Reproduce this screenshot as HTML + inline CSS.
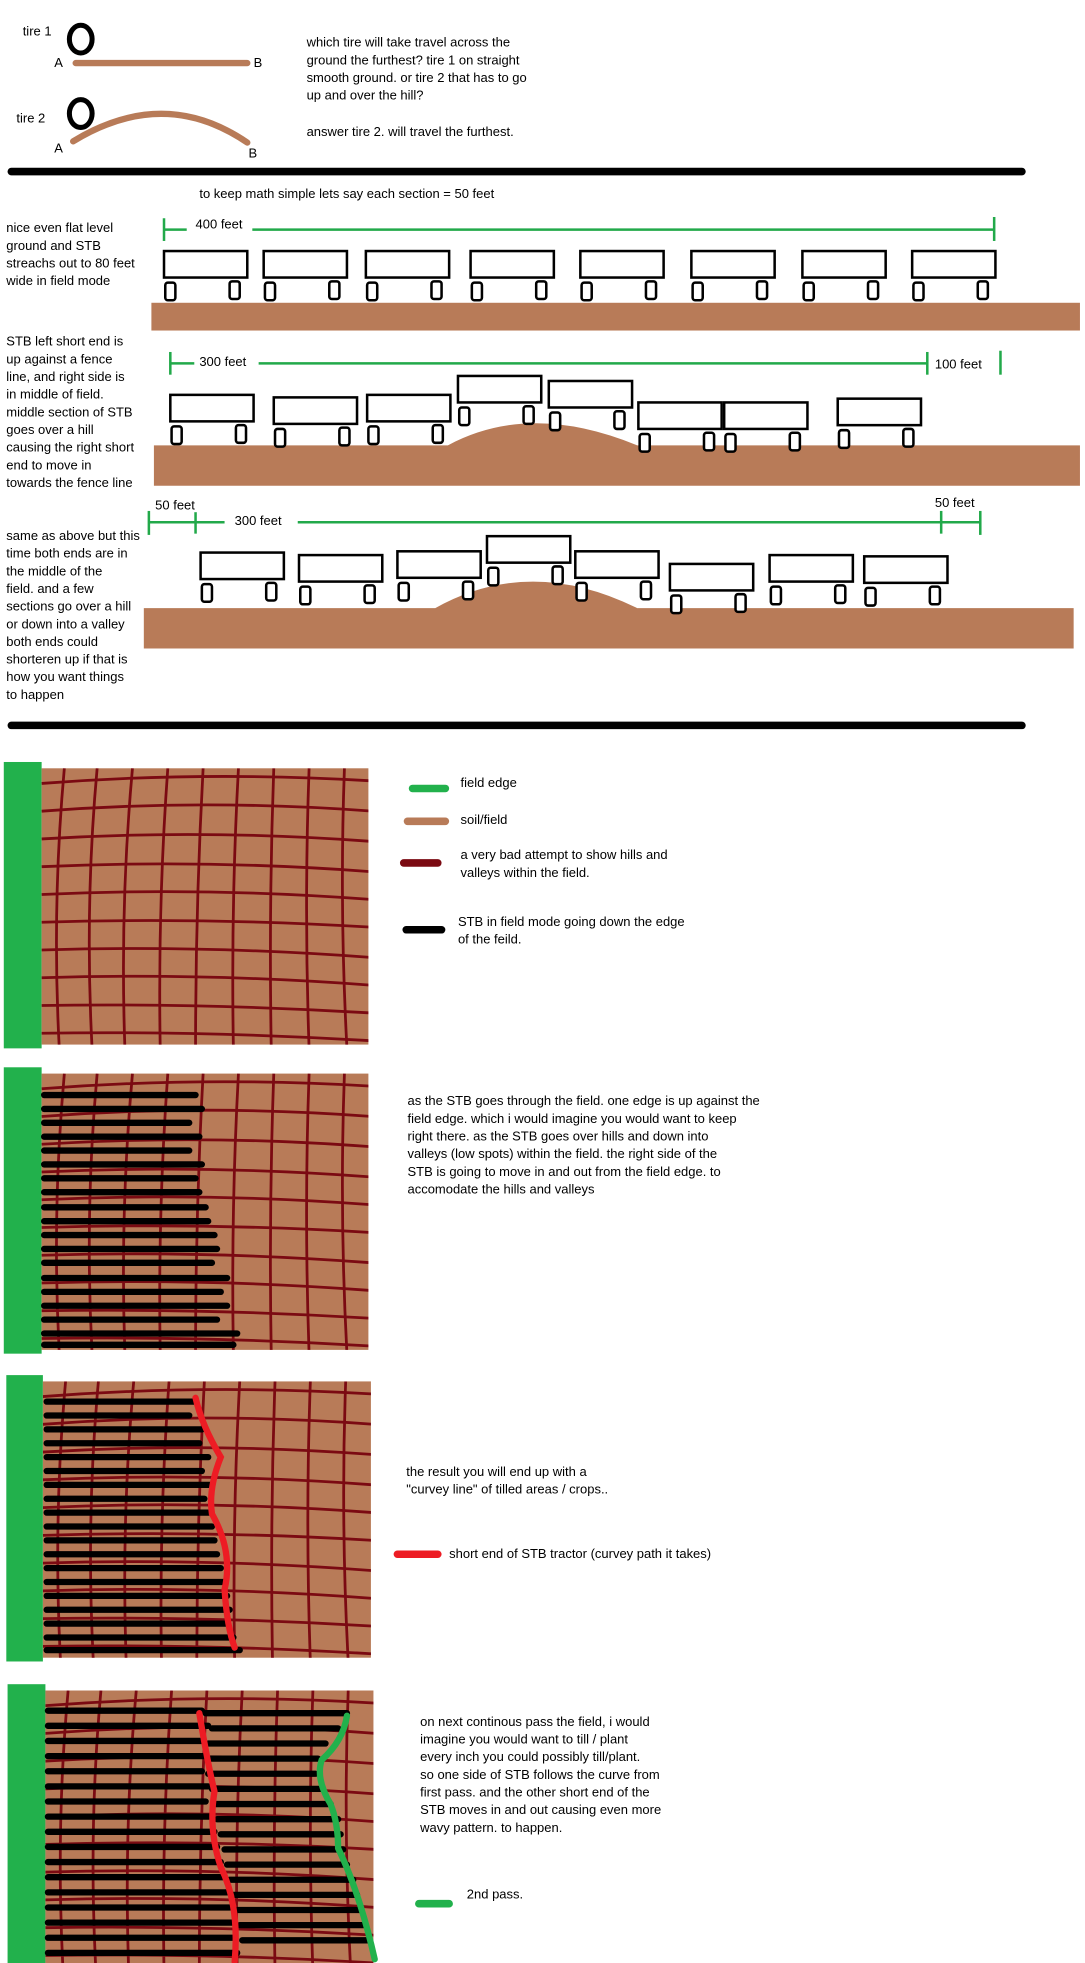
<!DOCTYPE html>
<html><head><meta charset="utf-8"><style>
html,body{margin:0;padding:0;background:#fff;}
svg{display:block;}
text{font-family:"Liberation Sans",sans-serif;font-size:10.3px;fill:#000;}
</style></head><body>
<svg width="1085" height="1963" viewBox="0 0 860 1556" preserveAspectRatio="none" xmlns="http://www.w3.org/2000/svg">
<defs>
<g id="grid" fill="none" stroke="#7b0a12" stroke-width="2.2">
<path d="M0 12 Q130 2 262 10"/><path d="M0 34 Q130 24 262 34"/><path d="M0 56 Q130 48 262 58"/><path d="M0 78 Q130 72 262 82"/><path d="M0 100 Q130 94 262 104"/><path d="M0 122 Q130 118 262 126"/><path d="M0 144 Q130 140 262 150"/><path d="M0 166 Q130 162 262 172"/><path d="M0 188 Q130 186 262 194"/><path d="M0 210 Q130 208 262 216"/>
<path d="M18 0 Q8 110 14 222"/><path d="M44 0 Q34 110 40 222"/><path d="M72 0 Q62 110 66 222"/><path d="M100 0 Q92 110 94 222"/><path d="M128 0 Q122 110 122 222"/><path d="M156 0 Q150 110 152 222"/><path d="M184 0 Q180 110 182 222"/><path d="M212 0 Q208 110 212 222"/><path d="M240 0 Q236 110 242 222"/>
</g>
<g id="bx" fill="#fff" stroke="#000" stroke-width="2">
<rect x="0" y="0" width="66" height="21"/><rect x="1" y="25" width="8" height="14" rx="2"/><rect x="52" y="24" width="8" height="14" rx="2"/>
</g>
</defs>
<text x="18" y="28">tire 1</text>
<ellipse cx="64" cy="31" rx="9" ry="11" fill="none" stroke="#000" stroke-width="4"/>
<line x1="60" y1="50" x2="196" y2="50" stroke="#b87b58" stroke-width="5" stroke-linecap="round"/>
<text x="43" y="53">A</text><text x="201" y="53">B</text>
<text x="13" y="97">tire 2</text>
<ellipse cx="64" cy="90" rx="9" ry="11" fill="none" stroke="#000" stroke-width="4"/>
<path d="M58 112 Q130 68 196 113" fill="none" stroke="#b87b58" stroke-width="5" stroke-linecap="round"/>
<text x="43" y="121">A</text><text x="197" y="125">B</text>
<text x="243" y="37">which tire will take travel across the</text>
<text x="243" y="51">ground the furthest?  tire 1 on straight</text>
<text x="243" y="65">smooth ground.  or tire 2  that has to go</text>
<text x="243" y="79">up and over the hill?</text>
<text x="243" y="108">answer tire 2. will travel the furthest.</text>
<line x1="9" y1="136" x2="810" y2="136" stroke="#000" stroke-width="6" stroke-linecap="round"/>
<text x="158" y="157">to keep math simple lets say each section = 50 feet</text>
<text x="5" y="184">nice even flat level</text><text x="5" y="198">ground and STB</text><text x="5" y="212">streachs out to 80 feet</text><text x="5" y="226">wide in field mode</text>
<g stroke="#22a94a" stroke-width="2"><line x1="130" y1="173" x2="130" y2="191"/><line x1="130" y1="182" x2="148" y2="182"/><line x1="200" y1="182" x2="788" y2="182"/><line x1="788" y1="172" x2="788" y2="191"/></g>
<text x="155" y="181">400 feet</text>
<rect x="120" y="240" width="736" height="22" fill="#b87b58"/>
<use href="#bx" x="130" y="199"/><use href="#bx" x="209" y="199"/><use href="#bx" x="290" y="199"/><use href="#bx" x="373" y="199"/><use href="#bx" x="460" y="199"/><use href="#bx" x="548" y="199"/><use href="#bx" x="636" y="199"/><use href="#bx" x="723" y="199"/>
<text x="5" y="274">STB left short end is</text><text x="5" y="288">up against a fence</text><text x="5" y="302">line, and right side is</text><text x="5" y="316">in middle of field.</text><text x="5" y="330">middle section of STB</text><text x="5" y="344">goes over a hill</text><text x="5" y="358">causing the right short</text><text x="5" y="372">end to move in</text><text x="5" y="386">towards the fence line</text>
<g stroke="#22a94a" stroke-width="2"><line x1="135" y1="279" x2="135" y2="297"/><line x1="135" y1="288" x2="154" y2="288"/><line x1="205" y1="288" x2="735" y2="288"/><line x1="735" y1="279" x2="735" y2="297"/><line x1="793" y1="278" x2="793" y2="297"/></g>
<text x="158" y="290">300 feet</text><text x="741" y="292">100 feet</text>
<path d="M122 353 L355 353 Q420 318 505 353 L856 353 L856 385 L122 385 Z" fill="#b87b58"/>
<use href="#bx" x="135" y="313"/><use href="#bx" x="217" y="315"/><use href="#bx" x="291" y="313"/><use href="#bx" x="363" y="298"/><use href="#bx" x="435" y="302"/><use href="#bx" x="506" y="319"/><use href="#bx" x="574" y="319"/><use href="#bx" x="664" y="316"/>
<text x="123" y="404">50 feet</text><text x="741" y="402">50 feet</text><text x="186" y="416">300 feet</text>
<g stroke="#22a94a" stroke-width="2"><line x1="118" y1="405" x2="118" y2="424"/><line x1="118" y1="414" x2="178" y2="414"/><line x1="236" y1="414" x2="777" y2="414"/><line x1="155" y1="406" x2="155" y2="423"/><line x1="746" y1="405" x2="746" y2="423"/><line x1="777" y1="405" x2="777" y2="424"/></g>
<text x="5" y="428">same as above but this</text><text x="5" y="442">time both ends are in</text><text x="5" y="456">the middle of the</text><text x="5" y="470">field. and a few</text><text x="5" y="484">sections go over a hill</text><text x="5" y="498">or down into a valley</text><text x="5" y="512">both ends could</text><text x="5" y="526">shorteren up if that is</text><text x="5" y="540">how you want things</text><text x="5" y="554">to happen</text>
<path d="M114 482 L345 482 Q420 440 505 482 L851 482 L851 514 L114 514 Z" fill="#b87b58"/>
<use href="#bx" x="159" y="438"/><use href="#bx" x="237" y="440"/><use href="#bx" x="315" y="437"/><use href="#bx" x="386" y="425"/><use href="#bx" x="456" y="437"/><use href="#bx" x="531" y="447"/><use href="#bx" x="610" y="440"/><use href="#bx" x="685" y="441"/>
<line x1="9" y1="575" x2="810" y2="575" stroke="#000" stroke-width="6" stroke-linecap="round"/>
<rect x="3" y="604" width="30" height="227" fill="#22b14c"/>
<rect x="33" y="609" width="259" height="219" fill="#b87b58"/>
<svg x="33" y="609" width="259" height="219" overflow="hidden"><use href="#grid"/></svg>
<g stroke-width="6" stroke-linecap="round"><line x1="327" y1="625" x2="353" y2="625" stroke="#22b14c"/><line x1="323" y1="651" x2="353" y2="651" stroke="#b87b58"/><line x1="320" y1="684" x2="347" y2="684" stroke="#7b0a12"/><line x1="322" y1="737" x2="350" y2="737" stroke="#000"/></g>
<text x="365" y="624">field edge</text><text x="365" y="653">soil/field</text>
<text x="365" y="681">a very bad attempt to show hills and</text><text x="365" y="695">valleys within the field.</text>
<text x="363" y="734">STB in field mode going down the edge</text><text x="363" y="748">of the feild.</text>
<rect x="3" y="846" width="30" height="227" fill="#22b14c"/>
<rect x="33" y="851" width="259" height="219" fill="#b87b58"/>
<svg x="33" y="851" width="259" height="219" overflow="hidden"><use href="#grid"/></svg>
<g stroke="#000" stroke-width="5" stroke-linecap="round">
<line x1="35" y1="868" x2="155" y2="868"/><line x1="35" y1="879" x2="160" y2="879"/><line x1="35" y1="890" x2="150" y2="890"/><line x1="35" y1="901" x2="158" y2="901"/><line x1="35" y1="912" x2="150" y2="912"/><line x1="35" y1="923" x2="160" y2="923"/><line x1="35" y1="934" x2="155" y2="934"/><line x1="35" y1="945" x2="158" y2="945"/><line x1="35" y1="957" x2="163" y2="957"/><line x1="35" y1="968" x2="165" y2="968"/><line x1="35" y1="979" x2="170" y2="979"/><line x1="35" y1="990" x2="172" y2="990"/><line x1="35" y1="1001" x2="168" y2="1001"/><line x1="35" y1="1013" x2="180" y2="1013"/><line x1="35" y1="1024" x2="175" y2="1024"/><line x1="35" y1="1035" x2="180" y2="1035"/><line x1="35" y1="1046" x2="172" y2="1046"/><line x1="35" y1="1057" x2="188" y2="1057"/><line x1="35" y1="1066" x2="185" y2="1066"/>
</g>
<text x="323" y="876">as the STB goes through the field. one edge is up against the</text><text x="323" y="890">field edge.  which i would imagine you would want to keep</text><text x="323" y="904">right there.   as the STB goes over hills and down into</text><text x="323" y="918">valleys (low spots) within the field.  the right side of the</text><text x="323" y="932">STB is going to move in and out from the field edge. to</text><text x="323" y="946">accomodate the hills and valleys</text>
<rect x="5" y="1090" width="29" height="227" fill="#22b14c"/>
<rect x="34" y="1095" width="260" height="219" fill="#b87b58"/>
<svg x="34" y="1095" width="260" height="219" overflow="hidden"><use href="#grid"/></svg>
<g stroke="#000" stroke-width="5" stroke-linecap="round">
<line x1="37" y1="1111" x2="155" y2="1111"/><line x1="37" y1="1122" x2="150" y2="1122"/><line x1="37" y1="1133" x2="160" y2="1133"/><line x1="37" y1="1144" x2="158" y2="1144"/><line x1="37" y1="1155" x2="165" y2="1155"/><line x1="37" y1="1166" x2="160" y2="1166"/><line x1="37" y1="1177" x2="168" y2="1177"/><line x1="37" y1="1188" x2="162" y2="1188"/><line x1="37" y1="1199" x2="165" y2="1199"/><line x1="37" y1="1210" x2="168" y2="1210"/><line x1="37" y1="1221" x2="170" y2="1221"/><line x1="37" y1="1232" x2="172" y2="1232"/><line x1="37" y1="1243" x2="175" y2="1243"/><line x1="37" y1="1254" x2="178" y2="1254"/><line x1="37" y1="1265" x2="180" y2="1265"/><line x1="37" y1="1276" x2="182" y2="1276"/><line x1="37" y1="1287" x2="180" y2="1287"/><line x1="37" y1="1298" x2="185" y2="1298"/><line x1="37" y1="1308" x2="190" y2="1308"/>
</g>
<path d="M155 1108 Q160 1130 175 1155 Q165 1180 168 1200 Q185 1230 178 1260 Q180 1290 186 1306" fill="none" stroke="#ed1c24" stroke-width="5" stroke-linecap="round"/>
<text x="322" y="1170">the result you will end up with a</text><text x="322" y="1184">"curvey line" of tilled areas  / crops..</text>
<line x1="315" y1="1232" x2="347" y2="1232" stroke="#ed1c24" stroke-width="6" stroke-linecap="round"/>
<text x="356" y="1235">short end of STB tractor (curvey path it takes)</text>
<rect x="6" y="1335" width="30" height="227" fill="#22b14c"/>
<rect x="36" y="1340" width="260" height="220" fill="#b87b58"/>
<svg x="36" y="1340" width="260" height="220" overflow="hidden"><use href="#grid"/></svg>
<g stroke="#000" stroke-width="5" stroke-linecap="round">
<line x1="38" y1="1356" x2="160" y2="1356"/><line x1="38" y1="1368" x2="165" y2="1368"/><line x1="38" y1="1380" x2="160" y2="1380"/><line x1="38" y1="1392" x2="162" y2="1392"/><line x1="38" y1="1404" x2="160" y2="1404"/><line x1="38" y1="1416" x2="165" y2="1416"/><line x1="38" y1="1428" x2="163" y2="1428"/><line x1="38" y1="1440" x2="168" y2="1440"/><line x1="38" y1="1452" x2="170" y2="1452"/><line x1="38" y1="1464" x2="172" y2="1464"/><line x1="38" y1="1476" x2="175" y2="1476"/><line x1="38" y1="1488" x2="178" y2="1488"/><line x1="38" y1="1500" x2="180" y2="1500"/><line x1="38" y1="1512" x2="182" y2="1512"/><line x1="38" y1="1524" x2="185" y2="1524"/><line x1="38" y1="1536" x2="186" y2="1536"/><line x1="38" y1="1548" x2="188" y2="1548"/>
<line x1="163" y1="1358" x2="275" y2="1358"/><line x1="168" y1="1370" x2="268" y2="1370"/><line x1="165" y1="1382" x2="258" y2="1382"/><line x1="167" y1="1394" x2="252" y2="1394"/><line x1="165" y1="1406" x2="250" y2="1406"/><line x1="168" y1="1418" x2="255" y2="1418"/><line x1="170" y1="1430" x2="262" y2="1430"/><line x1="172" y1="1442" x2="268" y2="1442"/><line x1="175" y1="1454" x2="270" y2="1454"/><line x1="178" y1="1466" x2="272" y2="1466"/><line x1="180" y1="1478" x2="275" y2="1478"/><line x1="182" y1="1490" x2="280" y2="1490"/><line x1="185" y1="1502" x2="283" y2="1502"/><line x1="188" y1="1514" x2="286" y2="1514"/><line x1="190" y1="1526" x2="289" y2="1526"/><line x1="192" y1="1538" x2="292" y2="1538"/>
</g>
<path d="M158 1358 Q165 1400 170 1420 Q165 1450 175 1480 Q190 1510 186 1555" fill="none" stroke="#ed1c24" stroke-width="5" stroke-linecap="round"/>
<path d="M275 1360 Q272 1380 255 1395 Q250 1410 262 1430 Q268 1445 268 1465 Q285 1500 297 1553" fill="none" stroke="#22b14c" stroke-width="5" stroke-linecap="round"/>
<text x="333" y="1368">on next continous pass the field, i would</text><text x="333" y="1382">imagine you would want to till / plant</text><text x="333" y="1396">every inch you could possibly till/plant.</text><text x="333" y="1410">so one side of STB follows the curve from</text><text x="333" y="1424">first pass. and the other short end of the</text><text x="333" y="1438">STB moves in and out  causing even more</text><text x="333" y="1452">wavy pattern.  to happen.</text>
<line x1="332" y1="1509" x2="356" y2="1509" stroke="#22b14c" stroke-width="6" stroke-linecap="round"/>
<text x="370" y="1505">2nd pass.</text>
</svg>
</body></html>
